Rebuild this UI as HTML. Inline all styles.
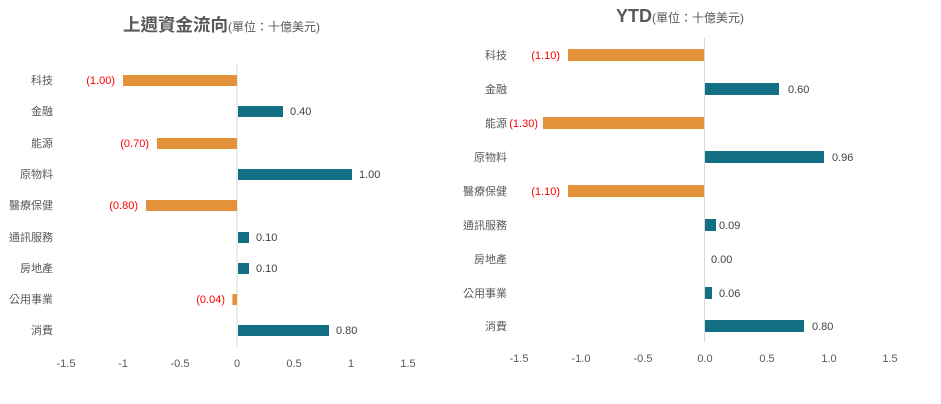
<!DOCTYPE html>
<html><head><meta charset="utf-8"><style>
body{margin:0;background:#fff}
svg{display:block;font-family:"Liberation Sans","Noto Sans CJK TC",sans-serif}
</style></head><body>
<svg width="941" height="404" viewBox="0 0 941 404">
<text x="123" y="31" font-size="17.5" font-weight="bold" fill="#595959">上週資金流向<tspan font-size="12" font-weight="normal">(單位：十億美元)</tspan></text>
<text x="616" y="22" font-size="18" font-weight="bold" fill="#595959">YTD<tspan font-size="12" font-weight="normal">(單位：十億美元)</tspan></text>
<line x1="237" y1="64" x2="237" y2="346" stroke="#d9d9d9"/>
<line x1="704.5" y1="38" x2="704.5" y2="342" stroke="#d9d9d9"/>
<g font-size="11" fill="#595959">
<g text-anchor="end">
<text x="53" y="84">科技</text><text x="53" y="115">金融</text><text x="53" y="147">能源</text><text x="53" y="178">原物料</text><text x="53" y="209">醫療保健</text><text x="53" y="241">通訊服務</text><text x="53" y="272">房地產</text><text x="53" y="303">公用事業</text><text x="53" y="334">消費</text>
<text x="507" y="59">科技</text><text x="507" y="93">金融</text><text x="507" y="127">能源</text><text x="507" y="161">原物料</text><text x="507" y="195">醫療保健</text><text x="507" y="229">通訊服務</text><text x="507" y="263">房地產</text><text x="507" y="297">公用事業</text><text x="507" y="330">消費</text>
</g>
<g text-anchor="middle">
<text x="66" y="367">-1.5</text><text x="123" y="367">-1</text><text x="180" y="367">-0.5</text><text x="237" y="367">0</text><text x="294" y="367">0.5</text><text x="351" y="367">1</text><text x="408" y="367">1.5</text>
<text x="519" y="362">-1.5</text><text x="581" y="362">-1.0</text><text x="643" y="362">-0.5</text><text x="705" y="362">0.0</text><text x="767" y="362">0.5</text><text x="829" y="362">1.0</text><text x="890" y="362">1.5</text>
</g>
</g>
<g fill="#e3923a">
<rect x="123" y="75" width="114" height="11"/><rect x="157" y="138" width="80" height="11"/><rect x="146" y="200" width="91" height="11"/><rect x="232.4" y="294" width="4.6" height="11"/>
<rect x="568" y="49" width="136" height="12"/><rect x="543" y="117" width="161" height="12"/><rect x="568" y="185" width="136" height="12"/>
</g>
<g fill="#136f84">
<rect x="238" y="106" width="45" height="11"/><rect x="238" y="169" width="114" height="11"/><rect x="238" y="232" width="11" height="11"/><rect x="238" y="263" width="11" height="11"/><rect x="238" y="325" width="91" height="11"/>
<rect x="705" y="83" width="74" height="12"/><rect x="705" y="151" width="119" height="12"/><rect x="705" y="219" width="11" height="12"/><rect x="705" y="287" width="7" height="12"/><rect x="705" y="320" width="99" height="12"/>
</g>
<g font-size="11" fill="#ff0000" text-anchor="end">
<text x="115" y="84">(1.00)</text><text x="149" y="147">(0.70)</text><text x="138" y="209">(0.80)</text><text x="225" y="303">(0.04)</text>
<text x="560" y="59">(1.10)</text><text x="538" y="127">(1.30)</text><text x="560" y="195">(1.10)</text>
</g>
<g font-size="11" fill="#404040">
<text x="290" y="115">0.40</text><text x="359" y="178">1.00</text><text x="256" y="241">0.10</text><text x="256" y="272">0.10</text><text x="336" y="334">0.80</text>
<text x="788" y="93">0.60</text><text x="832" y="161">0.96</text><text x="719" y="229">0.09</text><text x="711" y="263">0.00</text><text x="719" y="297">0.06</text><text x="812" y="330">0.80</text>
</g>
</svg>
</body></html>
